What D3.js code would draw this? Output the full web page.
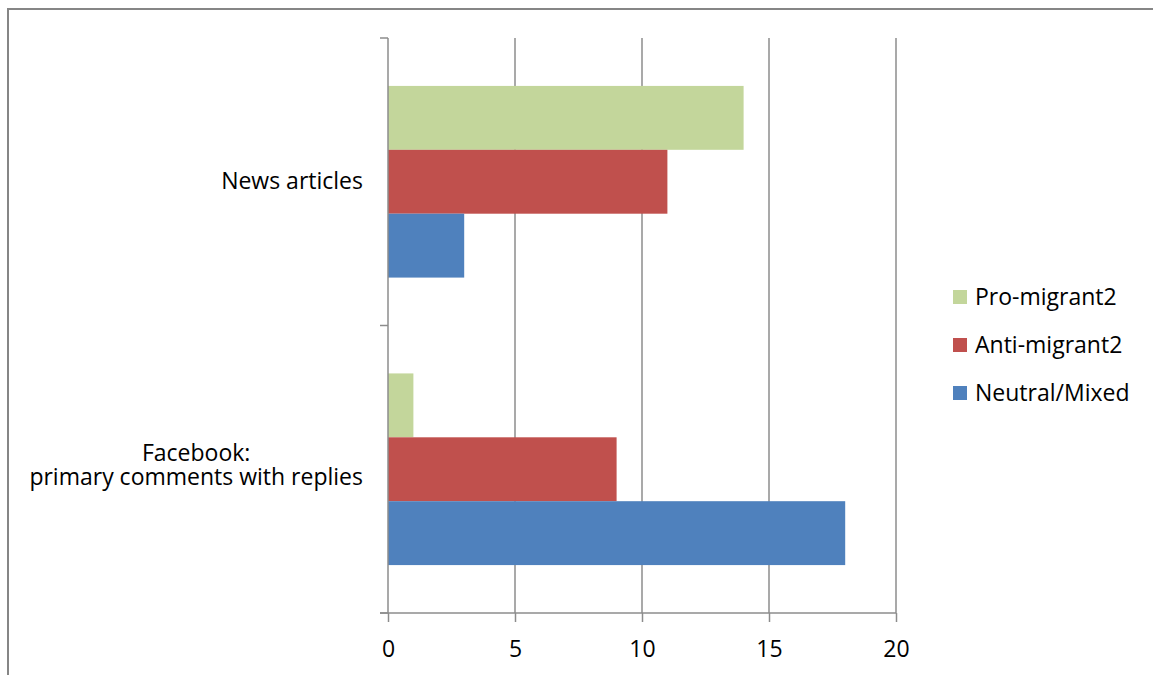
<!DOCTYPE html>
<html lang="en">
<head>
<meta charset="utf-8">
<title>Comments by stance</title>
<script src="https://d3js.org/d3.v7.min.js"></script>
<style>
  body { margin: 0; background: #fff; }
  svg { display: block; font-family: "Open Sans", sans-serif; }
  .grid line, .axis line, .axis path { stroke: #8c8c8c; stroke-width: 1.5; }
</style>
</head>
<body>
<svg width="1153" height="675"></svg>
<script>
// chart data
var categories = ["News articles", "Facebook:\nprimary comments with replies"];
var series = ["Pro-migrant2", "Anti-migrant2", "Neutral/Mixed"];
var proMigrant = [14, 1];
var antiMigrant = [11, 9];
var neutralMixed = [3, 18];
var xTicks = [0, 5, 10, 15, 20];
var colors = ["#c3d69b", "#c0504d", "#4f81bd"];

var values = [proMigrant, antiMigrant, neutralMixed];
var fontSize = 23;

var svg = d3.select("svg");

// outer frame (right and bottom edges are off the picture)
svg.append("rect")
    .attr("x", 8).attr("y", 9)
    .attr("width", 1200).attr("height", 700)
    .attr("fill", "none")
    .attr("stroke", "#868686")
    .attr("stroke-width", 2);

var plotL = 388, plotR = 896, plotT = 38, plotB = 613;

var x = d3.scaleLinear().domain([0, 20]).range([plotL, plotR]);
var y = d3.scaleBand().domain(categories).range([plotT, plotB]);

// bars take 3 slots plus a 150% gap split over both sides
var slot = y.bandwidth() / (series.length + 1.5);
var inner = d3.scaleBand().domain(series)
    .range([slot * 0.75, y.bandwidth() - slot * 0.75]);

// vertical gridlines
svg.append("g").attr("class", "grid")
  .selectAll("line")
  .data(xTicks.filter(function(d) { return d > 0; }))
  .enter().append("line")
    .attr("x1", function(d) { return x(d); })
    .attr("x2", function(d) { return x(d); })
    .attr("y1", plotT).attr("y2", plotB);

// bars
categories.forEach(function(c, ci) {
  var g = svg.append("g").attr("transform", "translate(0," + y(c) + ")");
  g.selectAll("rect")
    .data(series)
    .enter().append("rect")
      .attr("x", x(0))
      .attr("y", function(s) { return inner(s); })
      .attr("width", function(s, si) { return x(values[si][ci]) - x(0); })
      .attr("height", inner.bandwidth())
      .attr("fill", function(s, si) { return colors[si]; });
});

// x axis
var xAxis = svg.append("g").attr("class", "axis")
    .attr("transform", "translate(0," + plotB + ")")
    .call(d3.axisBottom(x).tickValues(xTicks).tickSize(9).tickPadding(19).tickFormat(d3.format("d")))
    .attr("font-family", "'Open Sans', sans-serif")
    .attr("font-size", fontSize);
xAxis.selectAll(".tick text").attr("fill", "#000");
xAxis.select(".domain").remove();
xAxis.append("line")
    .attr("x1", plotL - 8).attr("x2", plotR)
    .attr("y1", 0).attr("y2", 0);

// y axis: a line with ticks at band edges
var yAxis = svg.append("g").attr("class", "axis");
yAxis.append("line")
    .attr("x1", plotL).attr("x2", plotL)
    .attr("y1", plotT).attr("y2", plotB);
yAxis.selectAll(".edge")
  .data([plotT, y(categories[1]), plotB])
  .enter().append("line")
    .attr("class", "edge")
    .attr("x1", plotL - 8).attr("x2", plotL)
    .attr("y1", function(d) { return d; })
    .attr("y2", function(d) { return d; });

// category labels: lines centred on each other, block right-aligned
categories.forEach(function(c) {
  var lines = c.split("\n");
  var cy = y(c) + y.bandwidth() / 2;
  var lh = 24;
  var shift = 7 - (lines.length - 1) * 3;
  var texts = lines.map(function(l, i) {
    return svg.append("text")
      .attr("text-anchor", "middle")
      .attr("font-size", fontSize)
      .attr("fill", "#000")
      .attr("y", cy + shift + (i - (lines.length - 1) / 2) * lh)
      .text(l);
  });
  var w = d3.max(texts, function(t) { return t.node().getComputedTextLength(); });
  texts.forEach(function(t) { t.attr("x", plotL - 25 - w / 2); });
});

// legend
var legend = svg.append("g").attr("transform", "translate(953,297)");
series.forEach(function(s, i) {
  var row = legend.append("g").attr("transform", "translate(0," + i * 48 + ")");
  row.append("rect")
      .attr("x", 0).attr("y", -7)
      .attr("width", 14).attr("height", 14)
      .attr("fill", colors[i]);
  row.append("text")
      .attr("x", 22).attr("y", 8)
      .attr("font-size", fontSize)
      .attr("fill", "#000")
      .text(s);
});
</script>
</body>
</html>
